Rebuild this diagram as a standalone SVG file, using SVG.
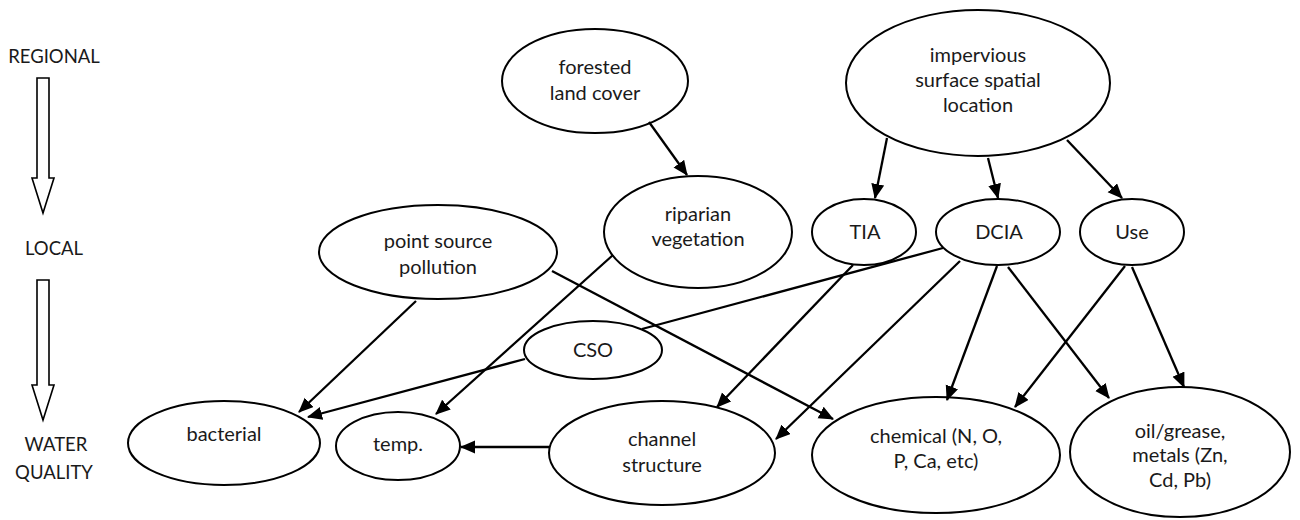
<svg xmlns="http://www.w3.org/2000/svg" width="1300" height="520" viewBox="0 0 1300 520">
  <style>
    .node ellipse { fill: #ffffff; stroke: #000000; stroke-width: 2; }
    text { font-family: "Lato", "Liberation Sans", sans-serif; font-size: 20px; fill: #1a1a1a; text-anchor: middle; }
    .axis-label { font-size: 18.5px; }
    .edge { stroke: #000000; stroke-width: 2.3; fill: none; marker-end: url(#head); }
    .plain { stroke: #000000; stroke-width: 2.3; fill: none; }
    .scale { fill: #ffffff; stroke: #000000; stroke-width: 1.6; stroke-linejoin: miter; }
  </style>
  <defs>
    <marker id="head" markerUnits="userSpaceOnUse" markerWidth="16" markerHeight="14" refX="14" refY="6.5" orient="auto">
      <path d="M0,0 L15,6.5 L0,13 z" fill="#000000"/>
    </marker>
  </defs>

  <rect width="1300" height="520" fill="#ffffff"/>

  <!-- scale axis on the left -->
  <g id="scale">
    <text class="axis-label" x="54" y="63">REGIONAL</text>
    <polygon class="scale" points="37,78 49,78 49,178 54,178 43,213 32,178 37,178"/>
    <text class="axis-label" x="54" y="255">LOCAL</text>
    <polygon class="scale" points="37,280 49,280 49,385 54,385 43,420 32,385 37,385"/>
    <text class="axis-label" x="56" y="451">WATER</text>
    <text class="axis-label" x="54" y="479">QUALITY</text>
  </g>

  <!-- nodes -->
  <g id="forested" class="node">
    <ellipse cx="595" cy="81" rx="93" ry="52"/>
    <text x="595" y="74">forested</text>
    <text x="595" y="100">land cover</text>
  </g>
  <g id="impervious" class="node">
    <ellipse cx="978" cy="83" rx="132" ry="73"/>
    <text x="978" y="62">impervious</text>
    <text x="978" y="87">surface spatial</text>
    <text x="978" y="112">location</text>
  </g>
  <g id="point-source" class="node">
    <ellipse cx="438" cy="252" rx="119" ry="47"/>
    <text x="438" y="248">point source</text>
    <text x="438" y="274">pollution</text>
  </g>
  <g id="riparian" class="node">
    <ellipse cx="698" cy="232" rx="94" ry="56"/>
    <text x="698" y="221">riparian</text>
    <text x="698" y="246">vegetation</text>
  </g>
  <g id="tia" class="node">
    <ellipse cx="864" cy="232" rx="52" ry="33"/>
    <text x="865" y="239">TIA</text>
  </g>
  <g id="dcia" class="node">
    <ellipse cx="998" cy="232" rx="62" ry="33"/>
    <text x="999" y="239">DCIA</text>
  </g>
  <g id="use" class="node">
    <ellipse cx="1132" cy="232" rx="52" ry="33"/>
    <text x="1132" y="239">Use</text>
  </g>
  <g id="cso" class="node">
    <ellipse cx="593" cy="350" rx="69" ry="29"/>
    <text x="593" y="357">CSO</text>
  </g>
  <g id="bacterial" class="node">
    <ellipse cx="224" cy="443" rx="96" ry="42"/>
    <text x="224" y="441">bacterial</text>
  </g>
  <g id="temp" class="node">
    <ellipse cx="398" cy="446" rx="62" ry="34"/>
    <text x="398" y="451">temp.</text>
  </g>
  <g id="channel" class="node">
    <ellipse cx="662" cy="453" rx="113" ry="52"/>
    <text x="662" y="446">channel</text>
    <text x="662" y="472">structure</text>
  </g>
  <g id="chemical" class="node">
    <ellipse cx="936" cy="455" rx="124" ry="58"/>
    <text x="936" y="443">chemical (N, O,</text>
    <text x="936" y="468">P, Ca, etc)</text>
  </g>
  <g id="oil" class="node">
    <ellipse cx="1180" cy="452" rx="110" ry="65"/>
    <text x="1180" y="438">oil/grease,</text>
    <text x="1180" y="462">metals (Zn,</text>
    <text x="1180" y="487">Cd, Pb)</text>
  </g>

  <!-- connectors -->
  <g id="connectors">
    <line class="edge" x1="649" y1="122" x2="687" y2="175"/>
    <line class="edge" x1="887" y1="138" x2="875" y2="198"/>
    <line class="edge" x1="988" y1="158" x2="998" y2="198"/>
    <line class="edge" x1="1067" y1="140" x2="1122" y2="198"/>
    <line class="plain" x1="943" y1="248" x2="642" y2="329"/>
    <line class="edge" x1="525" y1="359" x2="308" y2="417"/>
    <line class="edge" x1="416" y1="301" x2="299" y2="412"/>
    <line class="edge" x1="552" y1="271" x2="833" y2="419"/>
    <line class="edge" x1="613" y1="255" x2="436" y2="414"/>
    <line class="edge" x1="853" y1="265" x2="717" y2="407"/>
    <line class="edge" x1="960" y1="261" x2="776" y2="439"/>
    <line class="edge" x1="997" y1="266" x2="947" y2="400"/>
    <line class="edge" x1="1008" y1="267" x2="1109" y2="398"/>
    <line class="edge" x1="1125" y1="266" x2="1015" y2="407"/>
    <line class="edge" x1="1132" y1="267" x2="1184" y2="387"/>
    <line class="edge" x1="550" y1="447" x2="461" y2="447"/>
  </g>
</svg>
